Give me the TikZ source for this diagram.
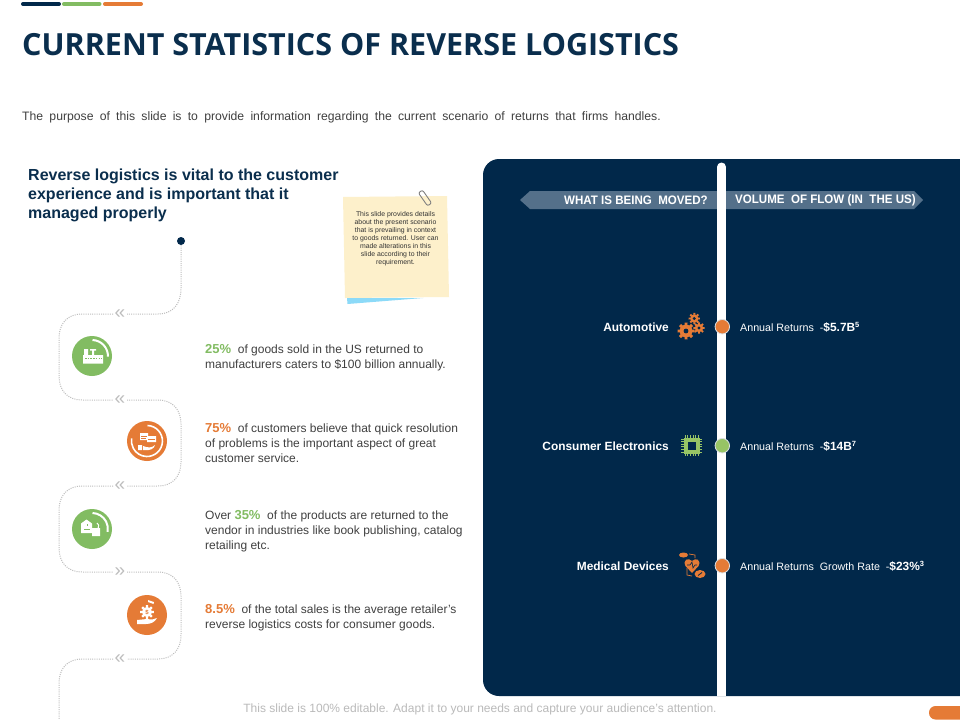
\documentclass[tikz,border=0pt]{standalone}
\usepackage{fontspec}
\setmainfont{Liberation Sans}
\newfontfamily\titlefont{Open Sans}
\usetikzlibrary{calc}
\definecolor{navy}{HTML}{01284A}
\definecolor{ttl}{HTML}{0A2E4D}
\definecolor{grn}{HTML}{82BC62}
\definecolor{lgrn}{HTML}{97C465}
\definecolor{org}{HTML}{E57B36}
\definecolor{txt}{HTML}{404040}
\definecolor{bar}{HTML}{54708A}
\definecolor{dots}{HTML}{BDBDBD}
\definecolor{note}{HTML}{FDF0CB}
\tikzset{
 x=1pt,y=-1pt,
 body/.style={anchor=north west,align=left,inner sep=0pt,text=txt,font=\fontsize{12}{15}\selectfont},
 lbl/.style={anchor=east,inner sep=0pt,text=white,font=\fontsize{11.9}{14}\selectfont\bfseries},
 val/.style={anchor=west,inner sep=0pt,text=white,font=\fontsize{10.7}{14}\selectfont},
 head/.style={inner sep=0pt,text=white,font=\fontsize{12.3}{14}\selectfont\bfseries},
 ring/.style={draw=dots,line width=1pt,dash pattern=on 1pt off 1.2pt},
 chev/.style={inner sep=0pt,text=dots,font=\fontsize{19}{19}\selectfont},
 disc/.style={circle,minimum size=40pt,inner sep=0pt},
 dotnode/.style={circle,minimum size=14.5pt,inner sep=0pt,draw=white!85!navy,line width=0.8pt},
}
\newcommand{\gear}[4]{% x y r colour
 \fill[#4] foreach \a in {0,45,...,315}{ ($(#1,#2)+(\a-14:#3*0.8)$) -- ($(#1,#2)+(\a-10:#3*1.15)$) -- ($(#1,#2)+(\a+10:#3*1.15)$) -- ($(#1,#2)+(\a+14:#3*0.8)$) -- cycle };
 \fill[#4] (#1,#2) circle (#3*0.85);
 \fill[navy] (#1,#2) circle (#3*0.32);
}
\newcommand{\hl}[2]{{\color{#1}\fontsize{13}{15}\selectfont\bfseries #2}}
\newcommand{\bigv}[1]{{\fontsize{11.9}{14}\selectfont\bfseries #1}}
\newcommand{\supr}[1]{\raisebox{4pt}{\fontsize{7.5}{7}\selectfont\bfseries #1}}
\begin{document}
\begin{tikzpicture}
\useasboundingbox (0,0) rectangle (960,720);
\fill[white] (0,0) rectangle (960,720);
% top bars
\draw[line width=4pt,line cap=round,navy] (23,4) -- (59,4);
\draw[line width=4pt,line cap=round,grn] (64,4) -- (99.5,4);
\draw[line width=4pt,line cap=round,org] (105,4) -- (141,4);
\node[anchor=west,inner sep=0pt,text=ttl,font=\titlefont\fontsize{30.5}{32}\selectfont\bfseries] (title) at (22,44.5) {CURRENT STATISTICS OF REVERSE LOGISTICS};
\node[anchor=west,inner sep=0pt,text=txt,font=\fontsize{12.2}{14}\selectfont] (intro) at (22,117.5) {\spaceskip=6.25pt\relax The purpose of this slide is to provide information regarding the current scenario of returns that firms handles.};
\node[anchor=north west,align=left,inner sep=0pt,text=ttl,font=\fontsize{16}{19}\selectfont\bfseries] (lead) at (28,168.5) {Reverse logistics is vital to the customer\\experience and is important that it\\managed properly};
% dotted route
\coordinate (p0) at (181,241);
\draw[ring] (p0) -- (181,288) .. controls (181,304) and (173,314) .. (158,314) -- (127,314);
\fill[navy] (p0) circle (4);
\draw[ring] (113,314) -- (82,314) .. controls (67,314) and (59,324) .. (59,338) -- (59,376) .. controls (59,390) and (67,400) .. (82,400) -- (113,400);
\draw[ring] (127,400) -- (158,400) .. controls (173,400) and (181,410) .. (181,424) -- (181,462) .. controls (181,476) and (173,486) .. (158,486) -- (127,486);
\draw[ring] (113,486) -- (82,486) .. controls (67,486) and (59,496) .. (59,510) -- (59,548) .. controls (59,562) and (67,572) .. (82,572) -- (113,572);
\draw[ring] (127,572) -- (158,572) .. controls (173,572) and (181,582) .. (181,596) -- (181,635) .. controls (181,649) and (173,659) .. (158,659) -- (127,659);
\draw[ring] (113,659) -- (82,659) .. controls (67,659) and (59,669) .. (59,683) -- (59,720);
\foreach \yy/\t in {314/«,400/«,486/«,572/»,659/«}{\node[chev] at (120,\yy) {\t};}
% discs
\node[disc,fill=grn] (d1) at (92,356) {};
\node[disc,fill=org] (d2) at (147,441) {};
\node[disc,fill=grn] (d3) at (92,529) {};
\node[disc,fill=org] (d4) at (147,615) {};
% icon 1
\draw[white,line width=2pt] (92.5,340) arc (-88:2:16);
\fill[white] (83,355) rectangle (103,363.5) (84,349) rectangle (88,363.5) (92,349) rectangle (94,355) (90,349) rectangle (96,350.5);
\draw[grn,line width=1pt,dash pattern=on 1.5pt off 1.2pt] (85,358.5) -- (102,358.5);
% icon 2
\draw[white,line width=1.6pt] (147.5,425.5) arc (-88:190:15.5);
\fill[white] (140,433) rectangle (148,440) (147,436) rectangle (156,442);
\draw[org,line width=0.6pt] (141,436) -- (147,436) (141,438) -- (146,438) (148,439) -- (155,439);
\fill[white] (138,445) rectangle (142,450) (143,446) .. controls (148,448) and (152,448) .. (155,445) .. controls (154,449) and (150,451) .. (143,450) -- cycle;
% icon 3
\draw[white,line width=2pt] (92.5,513) arc (-88:10:16);
\fill[white] (81,533) -- (81,523.5) -- (86.5,519.5) -- (92,523.5) -- (92,533) -- cycle (92,528) rectangle (100,536);
\draw[white,line width=1pt] (97,523) arc (-60:60:3.5);
\draw[grn,line width=0.7pt] (84,529) -- (90,529) (87,524) -- (87,526);
% icon 4
\fill[white] (148,600) -- (154,602) -- (153.5,604) -- (148,602) -- cycle;
\gear{147}{612}{6}{white}
\fill[white] (147,612) circle (3);
\node[inner sep=0pt,text=org,font=\fontsize{6}{6}\selectfont\bfseries] at (147,612) {\$};
\fill[white] (137,620) -- (147,619) .. controls (152,620) and (155,619) .. (157,618) .. controls (155,622) and (151,624) .. (146,624) -- (137,624) -- cycle;
% body text
\node[body] (t1) at (205,344.5) {\hl{grn}{25\%}\ \ of goods sold in the US returned to\\manufacturers caters to \$100 billion annually.};
\node[body] (t2) at (205,423.5) {\hl{org}{75\%}\ \ of customers believe that quick resolution\\of problems is the important aspect of great\\customer service.};
\node[body] (t3) at (205,510.5) {Over \hl{grn}{35\%}\ \ of the products are returned to the\\vendor in industries like book publishing, catalog\\retailing etc.};
\node[body] (t4) at (205,604.5) {\hl{org}{8.5\%}\ \ of the total sales is the average retailer's\\reverse logistics costs for consumer goods.};
% note
\fill[cyan!45!white] (347,298) -- (347.5,304) -- (423,298) -- cycle;
\fill[note] (343,197) -- (447,196) -- (449,297) -- (345,298) -- cycle;
\node[inner sep=0pt,align=center,text=black!80,font=\fontsize{6.9}{8}\selectfont] (notetxt) at (395.5,238.5) {This slide provides details\\about the present scenario\\that is prevailing in context\\to goods returned. User can\\made alterations in this\\slide according to their\\requirement.};
\draw[black!50,line width=0.9pt,rounded corners=2pt,rotate around={35:(425,198)}] (422.5,190) rectangle (427.5,206);
% panel
\fill[navy,rounded corners=16pt] (483,159) rectangle (990,696);
\fill[bar] (520,200) -- (530,191) -- (717,191) -- (717,209) -- (530,209) -- cycle;
\fill[bar] (726,191) -- (914,191) -- (923,200) -- (914,209) -- (726,209) -- cycle;
\draw[white,line width=9pt] (721.5,167) -- (721.5,696);
\fill[white] (721.5,167) circle (4.5);
\node[head,anchor=east] (h1) at (708,200) {\scalebox{0.94}[1]{WHAT IS BEING\ \ MOVED?}};
\node[head,anchor=west] (h2) at (735,200) {\scalebox{0.94}[1]{VOLUME\ \ OF FLOW (IN\ \ THE US)}};
\node[lbl] (a1) at (669,327) {Automotive};
\node[lbl] (a2) at (669,446) {Consumer Electronics};
\node[lbl] (a3) at (669,566) {Medical Devices};
\node[dotnode,fill=org] (n1) at (722.3,326.7) {};
\node[dotnode,fill=lgrn] (n2) at (722.3,445.7) {};
\node[dotnode,fill=org] (n3) at (722.3,565.7) {};
\node[val] (v1) at (740,327) {Annual Returns\ \ -\bigv{\$5.7B}\supr{5}};
\node[val] (v2) at (740,446) {Annual Returns\ \ -\bigv{\$14B}\supr{7}};
\node[val] (v3) at (740,566) {Annual Returns\ \ Growth Rate\ \ -\bigv{\$23\%}\supr{3}};
% gears
\gear{686}{331}{7.5}{org}
\gear{694.3}{318.5}{5}{org}
\gear{699}{328}{5}{org}
% chip
\fill[lgrn] (683.5,437.5) rectangle (700,453.5);
\foreach \i in {0,...,5}{
 \draw[lgrn,line width=0.8pt] (685.2+\i*2.6,435) -- (685.2+\i*2.6,456);
 \draw[lgrn,line width=0.8pt] (681,439+\i*2.6) -- (702,439+\i*2.6);
}
\fill[navy] (687.5,441.5) rectangle (696,450);
% medical
\fill[org] (683.5,555) ellipse (4.5 and 2.5);
\draw[org,line width=0.7pt] (689,554) -- (695,555) -- (695,558);
\fill[org] (692,561) .. controls (688,557) and (682.5,560) .. (685.5,566) -- (692,573) -- (698.5,566) .. controls (701.5,560) and (696,557) .. (692,561) -- cycle;
\draw[navy,line width=0.6pt] (687,565) -- (690,565) -- (692,562) -- (693,568) -- (695,565) -- (697,565);
\draw[org,line width=0.7pt] (687,568) -- (687,575) -- (692,576);
\fill[org] (700,574) ellipse (5.5 and 4);
\draw[navy,line width=0.8pt] (698,575.5) -- (702,572.5);
% footer
\node[inner sep=0pt,text=black!27,font=\fontsize{12}{14}\selectfont] (foot) at (480,709.5) {This slide is 100\% editable. Adapt it to your needs and capture your audience's attention.};
\fill[org,rounded corners=6.5pt] (929,706) rectangle (975,719.5);
\end{tikzpicture}
\end{document}
